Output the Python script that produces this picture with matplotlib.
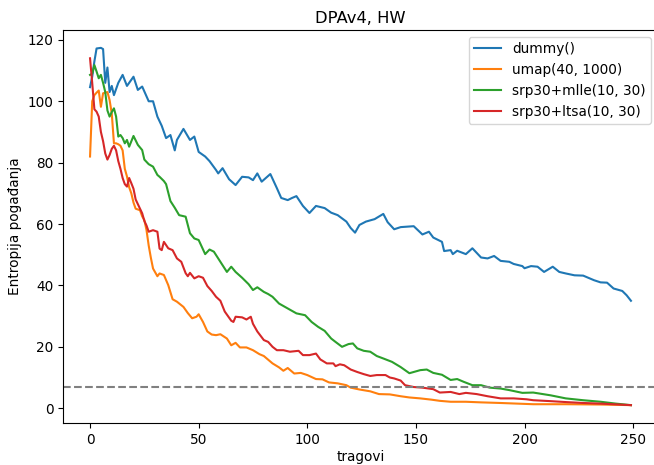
import matplotlib
matplotlib.use("Agg")
import matplotlib.pyplot as plt

dummy_x = [0, 1, 2, 3, 5, 6, 7, 8, 9, 10, 11, 13, 15, 17, 20, 22, 24, 27, 29, 31, 33, 35, 37, 39, 40, 43, 46, 48, 50, 53, 55, 58, 59, 61, 64, 67, 70, 73, 75, 77, 79, 83, 86, 88, 91, 93, 95, 98, 101, 104, 108, 111, 114, 118, 120, 122, 124, 127, 131, 135, 137, 140, 143, 149, 153, 156, 158, 162, 163, 166, 167, 169, 173, 176, 180, 183, 186, 189, 193, 195, 199, 200, 203, 206, 209, 213, 216, 219, 223, 227, 232, 235, 238, 241, 245, 247, 249]
dummy_y = [104.6, 108, 113, 117.2, 117.4, 117, 106, 111, 103, 105, 102, 106, 108.6, 105, 108, 103.7, 104.8, 100, 100, 95, 92, 88, 89, 84, 87.4, 91, 87.4, 88.5, 83.5, 82, 80.5, 77.6, 76.5, 78.2, 74.6, 72.7, 75.4, 75.2, 74.3, 76.5, 73.8, 76.3, 71.7, 68.5, 67.8, 68.5, 69.1, 65.9, 63.6, 65.9, 65.2, 63.7, 62.9, 60.8, 58.7, 57.2, 59.7, 60.8, 61.6, 63.3, 60.6, 58.3, 59, 59.3, 56.6, 57.5, 55.6, 54.2, 51.2, 51.5, 50.2, 51.3, 50.2, 52.1, 49.1, 48.8, 49.6, 48, 47.7, 47, 46.3, 45.6, 46.3, 46.1, 44.4, 46.1, 44.4, 43.9, 43.3, 43.2, 41.7, 41, 40.9, 39, 38.2, 36.8, 35]

umap_x = [0, 1, 2, 3, 4, 5, 6, 8, 9, 10, 11, 12, 13, 14, 15, 16, 17, 18, 19, 20, 21, 23, 24, 25, 26, 27, 28, 29, 31, 32, 34, 36, 38, 40, 43, 45, 47, 49, 50, 52, 54, 56, 58, 60, 63, 65, 67, 69, 72, 75, 78, 80, 84, 87, 89, 91, 94, 97, 100, 104, 107, 110, 114, 118, 120, 124, 129, 133, 138, 143, 147, 152, 157, 161, 166, 173, 180, 189, 204, 219, 235, 249]
umap_y = [82, 100, 102, 102.8, 103.5, 98.2, 102.6, 103, 100.4, 96, 86.3, 86.3, 86, 85.5, 84, 78, 75.5, 72, 70, 67, 65, 64.5, 62.5, 61.3, 58, 53, 49, 45.5, 43, 43.9, 43.4, 40.1, 35.5, 34.7, 33, 31, 29.3, 29.8, 30.6, 28.1, 25, 24, 23.8, 24.1, 22.7, 20.5, 21.3, 19.8, 19.8, 18.9, 17.6, 17, 14.6, 13.3, 12.2, 13.1, 11.3, 11.5, 10.8, 9.5, 9.4, 8.4, 8.1, 7.5, 6.7, 6.1, 5.5, 4.6, 4.5, 3.9, 3.5, 3.2, 2.8, 2.4, 2.1, 2.1, 1.9, 1.7, 1.3, 1.3, 1.2, 1.0]

mlle_x = [0, 1, 2, 3, 4, 5, 6, 7, 8, 9, 10, 11, 12, 13, 14, 15, 16, 17, 18, 20, 22, 24, 25, 27, 29, 31, 32, 34, 35, 37, 39, 41, 44, 46, 48, 50, 53, 55, 57, 59, 61, 63, 65, 67, 70, 73, 75, 77, 80, 82, 84, 87, 91, 95, 99, 102, 105, 108, 111, 113, 116, 119, 121, 123, 126, 129, 132, 135, 139, 143, 147, 149, 152, 155, 158, 162, 166, 169, 172, 176, 180, 184, 189, 193, 199, 204, 212, 219, 227, 235, 242, 249]
mlle_y = [108.6, 109, 111.8, 109.7, 107.5, 108.6, 106, 103, 97, 95, 96.5, 97.7, 95, 88.5, 89, 88, 86.3, 87.4, 85.2, 88.7, 85.8, 84.1, 81, 79.5, 78.7, 76, 75.4, 74, 73, 67.5, 65.3, 62.9, 62.4, 57, 55.3, 54.8, 50.2, 51.7, 51, 48.8, 46.6, 44.4, 46.1, 44.4, 42.5, 40.4, 38.5, 39.4, 37.9, 37.2, 36.3, 34.1, 32.5, 30.9, 30.3, 28.1, 26.5, 25.2, 22.7, 21.6, 20, 20.9, 21.1, 19.5, 18.7, 18.4, 17, 16.2, 15.1, 13.4, 11.4, 11.8, 12.4, 12.6, 11.5, 10.9, 9.2, 9.5, 8.6, 7.5, 7.5, 6.7, 6.4, 5.9, 5, 5.1, 4.2, 3.2, 2.6, 2.1, 1.5, 1.0]

ltsa_x = [0, 1, 2, 3, 4, 5, 6, 7, 8, 9, 10, 11, 12, 13, 14, 15, 16, 17, 18, 19, 20, 21, 22, 24, 25, 26, 27, 29, 31, 32, 33, 34, 36, 38, 40, 42, 44, 45, 46, 48, 50, 52, 54, 56, 58, 60, 62, 63, 65, 66, 67, 70, 72, 74, 75, 77, 80, 82, 84, 86, 89, 92, 96, 98, 101, 104, 106, 109, 112, 113, 115, 117, 120, 123, 126, 129, 132, 136, 138, 140, 143, 145, 149, 153, 158, 161, 166, 170, 173, 178, 183, 189, 195, 201, 204, 212, 219, 227, 235, 249]
ltsa_y = [114, 106, 97.4, 96.6, 95, 90, 87, 83, 81, 82.5, 84.5, 85.5, 84, 80.5, 78, 75, 73, 72.2, 75, 73.3, 71.5, 68, 66.5, 63.5, 61, 59.5, 57.5, 58, 57.5, 52, 51.5, 54.2, 52.1, 51.5, 48.8, 47.7, 44, 43, 44.1, 42.3, 43, 42.5, 39.8, 38.2, 36.3, 35, 31.5, 30.5, 28.5, 28.1, 29.8, 29.6, 28.9, 29.8, 27.5, 25, 22.2, 21.6, 20, 18.9, 18.9, 18.4, 18.7, 17.3, 17.3, 17.8, 15.9, 14.6, 14.6, 13.7, 14.3, 14, 12.6, 11.8, 11.1, 10.5, 10.8, 10.8, 10, 9.7, 9, 7.5, 6.9, 6.7, 6.2, 5.1, 5.3, 4.6, 5, 4.6, 3.9, 3.2, 3.2, 2.9, 2.6, 2.3, 2, 1.7, 1.5, 1.0]

labels = ["dummy()", "umap(40, 1000)", "srp30+mlle(10, 30)", "srp30+ltsa(10, 30)"]
threshold = 7

plt.rcParams["font.size"] = 9.8

fig = plt.figure(figsize=(6.54, 4.65), dpi=100)
ax = fig.add_axes([63 / 654, 1 - 423 / 465, (658 - 63) / 654, (423 - 30) / 465])

ax.plot(dummy_x, dummy_y, color="#1f77b4", label=labels[0])
ax.plot(umap_x, umap_y, color="#ff7f0e", label=labels[1])
ax.plot(mlle_x, mlle_y, color="#2ca02c", label=labels[2])
ax.plot(ltsa_x, ltsa_y, color="#d62728", label=labels[3])
ax.axhline(threshold, color="gray", linestyle="--")

ax.set_xticks([0, 50, 100, 150, 200, 250])
ax.set_yticks([0, 20, 40, 60, 80, 100, 120])
ax.set_title("DPAv4, HW", pad=5)
ax.set_xlabel("tragovi", labelpad=2)
ax.set_ylabel("Entropija pogađanja")
ax.legend(loc="upper right")

fig.savefig("out.png", dpi=100)
